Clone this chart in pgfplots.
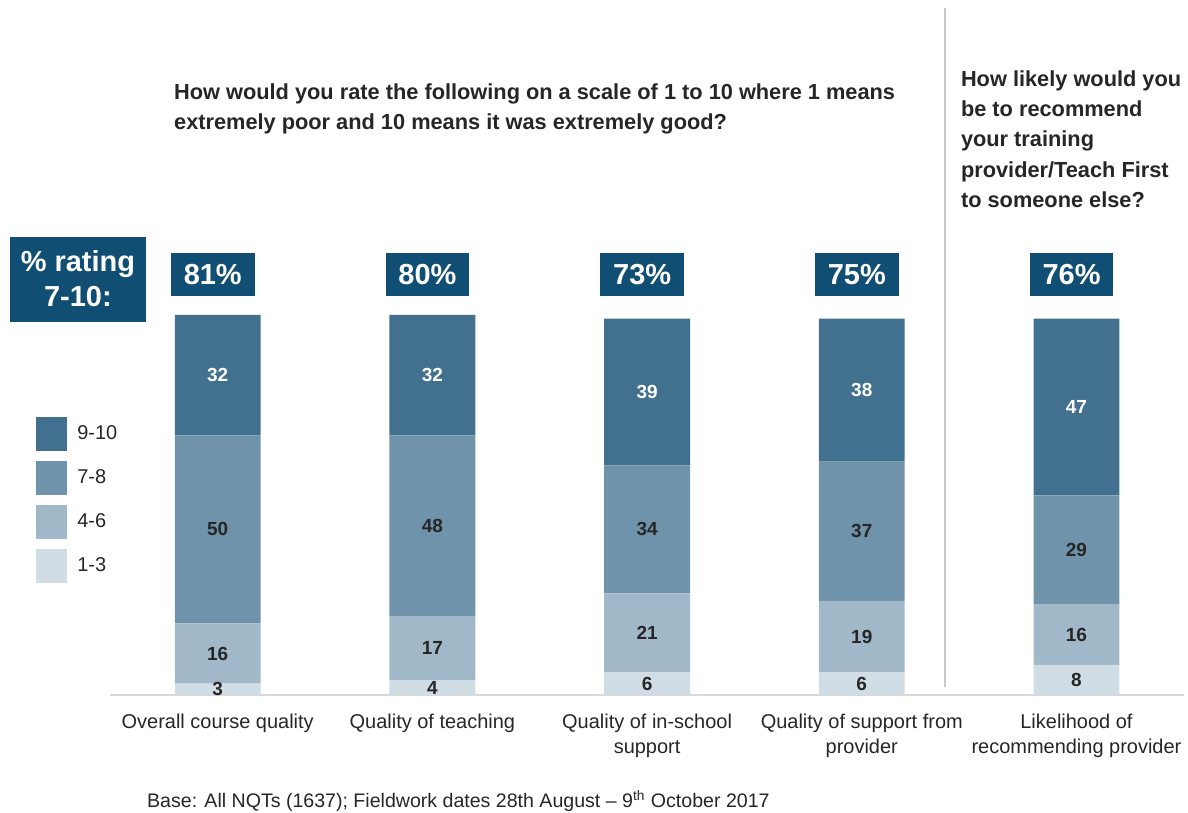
\documentclass[border=0pt]{standalone}
\usepackage{pgfplots}
\usepackage{pgfplotstable}
\pgfplotsset{compat=1.18}
\usepackage{fontspec}
\setmainfont{Liberation Sans}
\definecolor{cA}{HTML}{D0DDE5}
\definecolor{cB}{HTML}{A1B8C8}
\definecolor{cC}{HTML}{6F93AB}
\definecolor{cD}{HTML}{41718F}
\definecolor{boxblue}{HTML}{114E73}
\definecolor{txt}{HTML}{262626}
\pgfplotstableread{
x v
0 3
1 4
2 6
3 6
4 8
}\tA
\pgfplotstableread{
x v
0 16
1 17
2 21
3 19
4 16
}\tB
\pgfplotstableread{
x v
0 50
1 48
2 34
3 37
4 29
}\tC
\pgfplotstableread{
x v
0 32
1 32
2 39
3 38
4 47
}\tD
\begin{document}
\begin{tikzpicture}
\begin{scope}[x=0.5pt,y=-0.5pt]
\path[use as bounding box] (0,0) rectangle (1188,814);
\end{scope}
\begin{axis}[
  at={(55.25pt,-348pt)}, anchor=south west,
  scale only axis, width=537.5pt, height=188.5pt,
  xmin=-0.5, xmax=4.5, ymin=0, ymax=100,
  clip=false,
  ybar stacked, bar width=0.4,
  axis y line=none,
  axis x line*=bottom,
  x axis line style={draw=black!15, line width=0.8pt, -},
  xtick={0,1,2,3,4}, major tick length=0pt,
  xticklabels={Overall course quality, Quality of teaching, {Quality of in-school\\support}, {Quality of support from\\provider}, {Likelihood of\\recommending provider}},
  xticklabel style={align=center, font=\fontsize{10}{12.5}\selectfont, text=txt, yshift=-6pt},
  /pgf/number format/assume math mode=true,
  nodes near coords,
  point meta=explicit,
  every node near coord/.append style={anchor=center, font=\bfseries\fontsize{9.5}{11}\selectfont, text=txt},
  reverse legend,
  legend style={draw=none, fill=none, at={(-0.0693,0.74)}, anchor=north west, inner sep=0pt, row sep=5pt, font=\fontsize{10}{12}\selectfont, text=txt},
  legend cell align=left,
  legend image code/.code={\fill[#1] (0pt,-8.5pt) rectangle (15.5pt,8.5pt); \path (18.5pt,0pt);},
]
\addplot[fill=cA, draw=none] table[x=x, y=v, meta=v] {\tA};
\addlegendentry{1-3}
\addplot[fill=cB, draw=none] table[x=x, y=v, meta=v] {\tB};
\addlegendentry{4-6}
\addplot[fill=cC, draw=none] table[x=x, y=v, meta=v] {\tC};
\addlegendentry{7-8}
\addplot[fill=cD, draw=none, every node near coord/.append style={text=white}] table[x=x, y=v, meta=v] {\tD};
\addlegendentry{9-10}
\tikzset{pbox/.style={fill=boxblue, text=white, font=\bfseries\fontsize{14.5}{17}\selectfont, minimum width=42pt, minimum height=21.5pt, inner sep=0pt}}
\node[pbox] at (axis cs:-0.023,111.8) {81\%};
\node[pbox] at (axis cs:0.977,111.8) {80\%};
\node[pbox] at (axis cs:1.977,111.8) {73\%};
\node[pbox] at (axis cs:2.977,111.8) {75\%};
\node[pbox] at (axis cs:3.977,111.8) {76\%};
\end{axis}
\begin{scope}[x=0.5pt,y=-0.5pt]
\draw[black!22, line width=1pt] (946,8) -- (946,688);
\node[fill=boxblue, text=white, font=\bfseries\fontsize{14.5}{17.5}\selectfont, minimum width=68pt, minimum height=42.5pt, inner sep=0pt, align=center] at (78,279.5) {\% rating\\7-10:};
\begin{scope}[every node/.style={anchor=base west, inner sep=0pt, text=txt, font=\bfseries\fontsize{10.9}{13}\selectfont}]
\node at (174,100) {How would you rate the following on a scale of 1 to 10 where 1 means};
\node at (174,130) {extremely poor and 10 means it was extremely good?};
\node at (962,87) {How likely would you};
\node at (962,117) {be to recommend};
\node at (962,147) {your training};
\node at (962,178) {provider/Teach First};
\node at (962,208) {to someone else?};
\end{scope}
\node[anchor=base west, inner sep=0pt, text=txt, font=\fontsize{9.8}{12}\selectfont] at (147,809) {Base: All NQTs (1637); Fieldwork dates 28th August -- 9\textsuperscript{th} October 2017};
\end{scope}
\end{tikzpicture}
\end{document}
